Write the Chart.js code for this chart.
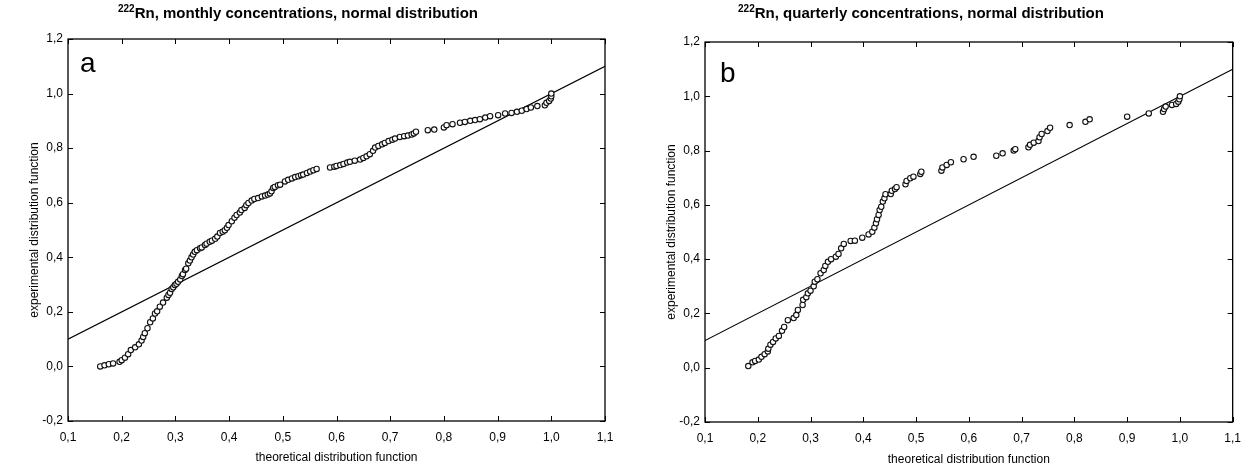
<!DOCTYPE html>
<html>
<head>
<meta charset="utf-8">
<script src="https://cdn.jsdelivr.net/npm/chart.js@4.4.1/dist/chart.umd.min.js"></script>
<style>
  body { margin: 0; background: #fff; }
  canvas { position: absolute; top: 0; }
</style>
</head>
<body>
<canvas id="monthlyChart" width="625" height="470" style="left:0"></canvas>
<canvas id="quarterlyChart" width="625" height="470" style="left:625px"></canvas>
<script>
// ---- data ----
const monthlyX = [
  0.160, 0.168, 0.176, 0.184, 0.196, 0.200, 0.206, 0.212, 0.217, 0.225,
  0.232, 0.237, 0.240, 0.243, 0.248, 0.253, 0.258, 0.262, 0.266, 0.271,
  0.277, 0.284, 0.287, 0.290, 0.293, 0.296, 0.299, 0.302, 0.305, 0.309,
  0.312, 0.314, 0.318, 0.320, 0.324, 0.327, 0.330, 0.333, 0.336, 0.340,
  0.346, 0.349, 0.355, 0.358, 0.364, 0.368, 0.374, 0.378, 0.383, 0.388,
  0.392, 0.396, 0.399, 0.405, 0.410, 0.414, 0.420, 0.423, 0.429, 0.432,
  0.436, 0.442, 0.447, 0.454, 0.461, 0.467, 0.472, 0.476, 0.479, 0.482,
  0.485, 0.491, 0.495, 0.504, 0.510, 0.517, 0.523, 0.529, 0.534, 0.538,
  0.545, 0.551, 0.557, 0.563, 0.588, 0.596, 0.600, 0.607, 0.613, 0.620,
  0.625, 0.634, 0.644, 0.650, 0.656, 0.662, 0.668, 0.672, 0.678, 0.685,
  0.690, 0.697, 0.704, 0.709, 0.718, 0.726, 0.733, 0.740, 0.744, 0.748,
  0.770, 0.782, 0.800, 0.805, 0.816, 0.830, 0.839, 0.849, 0.858, 0.867,
  0.877, 0.886, 0.901, 0.914, 0.926, 0.936, 0.945, 0.954, 0.962, 0.974,
  0.988, 0.991, 0.996, 0.999, 1.000, 1.000
];
const monthlyY = [
  0.000, 0.004, 0.008, 0.011, 0.017, 0.023, 0.032, 0.045, 0.060, 0.070,
  0.081, 0.095, 0.108, 0.122, 0.140, 0.162, 0.176, 0.194, 0.202, 0.219,
  0.234, 0.252, 0.262, 0.270, 0.284, 0.290, 0.298, 0.303, 0.310, 0.319,
  0.331, 0.338, 0.353, 0.358, 0.378, 0.388, 0.400, 0.410, 0.420, 0.426,
  0.433, 0.436, 0.445, 0.450, 0.457, 0.461, 0.468, 0.476, 0.489, 0.494,
  0.499, 0.508, 0.518, 0.532, 0.545, 0.555, 0.564, 0.573, 0.581, 0.591,
  0.599, 0.608, 0.614, 0.617, 0.623, 0.626, 0.630, 0.634, 0.642, 0.654,
  0.658, 0.664, 0.666, 0.678, 0.684, 0.689, 0.694, 0.697, 0.701, 0.703,
  0.709, 0.714, 0.719, 0.724, 0.729, 0.732, 0.735, 0.738, 0.742, 0.747,
  0.750, 0.754, 0.758, 0.764, 0.770, 0.778, 0.790, 0.802, 0.808, 0.814,
  0.819, 0.826, 0.831, 0.835, 0.841, 0.844, 0.846, 0.850, 0.854, 0.860,
  0.866, 0.868, 0.876, 0.884, 0.888, 0.893, 0.896, 0.900, 0.903, 0.906,
  0.912, 0.917, 0.921, 0.927, 0.929, 0.933, 0.937, 0.943, 0.949, 0.954,
  0.957, 0.966, 0.973, 0.982, 0.990, 1.000
];

const quarterlyX = [
  0.182, 0.190, 0.195, 0.202, 0.207, 0.213, 0.219, 0.220, 0.224, 0.229,
  0.234, 0.240, 0.246, 0.250, 0.257, 0.268, 0.273, 0.276, 0.285, 0.286,
  0.292, 0.295, 0.300, 0.306, 0.308, 0.313, 0.319, 0.325, 0.328, 0.333,
  0.339, 0.348, 0.353, 0.358, 0.363, 0.376, 0.384, 0.398, 0.410, 0.417,
  0.421, 0.424, 0.426, 0.429, 0.431, 0.434, 0.437, 0.440, 0.442, 0.452,
  0.454, 0.460, 0.463, 0.480, 0.482, 0.489, 0.495, 0.508, 0.510, 0.548,
  0.550, 0.558, 0.566, 0.590, 0.609, 0.652, 0.664, 0.685, 0.688, 0.713,
  0.716, 0.723, 0.732, 0.734, 0.738, 0.749, 0.754, 0.791, 0.821, 0.829,
  0.900, 0.941, 0.968, 0.970, 0.973, 0.985, 0.993, 0.997, 0.999, 1.000
];
const quarterlyY = [
  0.006, 0.020, 0.025, 0.030, 0.040, 0.050, 0.060, 0.070, 0.085, 0.095,
  0.108, 0.117, 0.136, 0.150, 0.175, 0.183, 0.194, 0.213, 0.231, 0.250,
  0.260, 0.274, 0.284, 0.300, 0.317, 0.326, 0.348, 0.360, 0.375, 0.390,
  0.400, 0.409, 0.419, 0.440, 0.456, 0.467, 0.468, 0.479, 0.491, 0.501,
  0.516, 0.532, 0.547, 0.563, 0.581, 0.593, 0.612, 0.624, 0.639, 0.640,
  0.652, 0.658, 0.665, 0.676, 0.688, 0.698, 0.704, 0.714, 0.722, 0.726,
  0.738, 0.747, 0.757, 0.768, 0.777, 0.781, 0.790, 0.800, 0.805, 0.812,
  0.821, 0.829, 0.835, 0.849, 0.861, 0.872, 0.884, 0.894, 0.906, 0.915,
  0.925, 0.937, 0.943, 0.953, 0.962, 0.968, 0.972, 0.980, 0.989, 1.000
];

// reference line y = x
const refLineX = [0.1, 1.1];
const refLineY = [0.1, 1.1];

const xTickValues = [0.1, 0.2, 0.3, 0.4, 0.5, 0.6, 0.7, 0.8, 0.9, 1.0, 1.1];
const yTickValues = [-0.2, 0.0, 0.2, 0.4, 0.6, 0.8, 1.0, 1.2];

const FONT = '"Liberation Sans", Arial, Helvetica, sans-serif';
const fmt = v => v.toFixed(1).replace('.', ',');
const pairs = (xs, ys) => xs.map((x, i) => ({ x: x, y: ys[i] }));

// frame, inward ticks, title with superscript, panel letter, axis titles
const decorPlugin = {
  id: 'decor',
  afterDraw(chart, args, o) {
    const { ctx, chartArea: a } = chart;
    const xs = chart.scales.x, ys = chart.scales.y;
    ctx.save();
    ctx.strokeStyle = '#000';
    ctx.lineWidth = 1.3;
    ctx.strokeRect(a.left, a.top, a.right - a.left, a.bottom - a.top);

    ctx.lineWidth = 1;
    ctx.beginPath();
    xTickValues.forEach(v => {
      const px = Math.round(xs.getPixelForValue(v)) + 0.5;
      ctx.moveTo(px, a.top); ctx.lineTo(px, a.top + 5);
      ctx.moveTo(px, a.bottom); ctx.lineTo(px, a.bottom - 5);
    });
    yTickValues.forEach(v => {
      const py = Math.round(ys.getPixelForValue(v)) + 0.5;
      ctx.moveTo(a.left, py); ctx.lineTo(a.left + 5, py);
      ctx.moveTo(a.right, py); ctx.lineTo(a.right - 5, py);
    });
    ctx.stroke();

    ctx.fillStyle = '#000';
    ctx.textBaseline = 'alphabetic';

    // title: superscript isotope number + text
    ctx.font = 'bold 10px ' + FONT;
    const wSup = ctx.measureText(o.sup).width;
    ctx.font = 'bold 15px ' + FONT;
    const wMain = ctx.measureText(o.title).width;
    const tx = o.titleX - (wSup + wMain) / 2;
    ctx.textAlign = 'left';
    ctx.font = 'bold 10px ' + FONT;
    ctx.fillText(o.sup, tx, 12);
    ctx.font = 'bold 15px ' + FONT;
    ctx.fillText(o.title, tx + wSup, 18);

    // panel letter
    ctx.font = '28px ' + FONT;
    ctx.fillText(o.letter, a.left + o.letterDx, a.top + o.letterDy);

    // axis titles
    ctx.font = '12px ' + FONT;
    ctx.textAlign = 'center';
    ctx.textBaseline = 'middle';
    ctx.fillText('theoretical distribution function', (a.left + a.right) / 2, o.xTitleY);
    ctx.save();
    ctx.translate(a.left - 33, (a.top + a.bottom) / 2);
    ctx.rotate(-Math.PI / 2);
    ctx.fillText('experimental distribution function', 0, 0);
    ctx.restore();

    ctx.restore();
  }
};

function makeChart(canvasId, xs, ys, deco, box) {
  const ctx = document.getElementById(canvasId).getContext('2d');
  return new Chart(ctx, {
    type: 'scatter',
    data: {
      datasets: [
        {
          data: pairs(xs, ys),
          pointStyle: 'circle',
          pointRadius: 2.7,
          pointBorderWidth: 1.1,
          pointBorderColor: '#111',
          pointBackgroundColor: '#fff',
          order: 1
        },
        {
          data: pairs(refLineX, refLineY),
          showLine: true,
          borderColor: '#000',
          borderWidth: 1.1,
          pointRadius: 0,
          order: 2
        }
      ]
    },
    options: {
      responsive: false,
      animation: false,
      layout: { padding: { left: 0, right: box.padRight, top: box.padTop, bottom: 0 } },
      plugins: {
        legend: { display: false },
        tooltip: { enabled: false },
        decor: deco
      },
      scales: {
        x: {
          type: 'linear',
          min: 0.1,
          max: 1.1,
          afterBuildTicks: s => { s.ticks = xTickValues.map(v => ({ value: v })); },
          afterFit: s => { s.height = box.xHeight; },
          grid: { display: false, drawTicks: false },
          border: { display: false },
          ticks: {
            padding: 9,
            color: '#000',
            font: { family: FONT, size: 12 },
            maxRotation: 0,
            callback: v => fmt(v)
          }
        },
        y: {
          type: 'linear',
          min: -0.2,
          max: 1.2,
          afterBuildTicks: s => { s.ticks = yTickValues.map(v => ({ value: v })); },
          afterFit: s => { s.width = box.yWidth; },
          grid: { display: false, drawTicks: false },
          border: { display: false },
          ticks: {
            padding: 5,
            color: '#000',
            font: { family: FONT, size: 12 },
            callback: v => fmt(v)
          }
        }
      }
    },
    plugins: [decorPlugin]
  });
}

makeChart('monthlyChart', monthlyX, monthlyY,
  { sup: '222', title: 'Rn, monthly concentrations, normal distribution', titleX: 298,
    letter: 'a', letterDx: 12, letterDy: 33, xTitleY: 458 },
  { padRight: 20, padTop: 39, xHeight: 49, yWidth: 68 });

makeChart('quarterlyChart', quarterlyX, quarterlyY,
  { sup: '222', title: 'Rn, quarterly concentrations, normal distribution', titleX: 296,
    letter: 'b', letterDx: 15, letterDy: 40, xTitleY: 460 },
  { padRight: 8, padTop: 42, xHeight: 48, yWidth: 80 });
</script>
</body>
</html>
